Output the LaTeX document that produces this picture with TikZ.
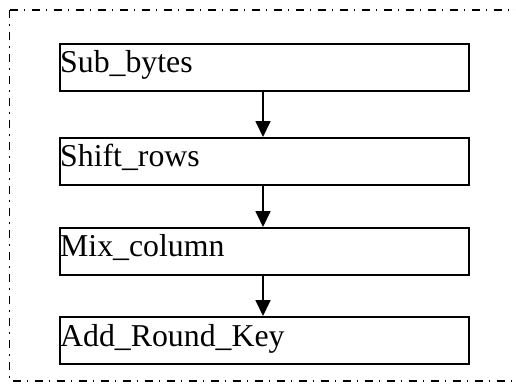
\documentclass[tikz,border=0pt]{standalone}
\usepackage{fontspec}
\setmainfont{Liberation Serif}
\usetikzlibrary{arrows.meta}
\begin{document}
\begin{tikzpicture}[x=1pt,y=-1pt,
  stagebox/.style={draw=black, line width=1.6pt, minimum width=409pt, minimum height=47pt, inner sep=0pt, anchor=north west},
  stagelabel/.style={anchor=base west, inner sep=0pt, font=\fontsize{31.8pt}{36pt}\selectfont},
  flow/.style={line width=1.8pt, -{Triangle[length=16pt,width=15pt]}},
  outer/.style={line width=1.3pt, dash pattern=on 8pt off 6pt on 1.5pt off 6.5pt}]
\useasboundingbox (0,0) rectangle (516,383);
\draw[outer] (9.5,10) -- (9.5,381) -- (530,381) (9.5,10) -- (530,10);
\node[stagebox] (b1) at (59,43) {};
\node[stagebox] (b2) at (59,137) {};
\node[stagebox] (b3) at (59,227) {};
\node[stagebox] (b4) at (59,316) {};
\node[stagelabel] (t1) at (60,72.5) {Sub\_bytes};
\node[stagelabel] (t2) at (60,166.5) {Shift\_rows};
\node[stagelabel] (t3) at (60,256.5) {Mix\_column};
\node[stagelabel] (t4) at (60,346) {Add\_Round\_Key};
\coordinate (ax) at (263,0);
\draw[flow] (b1.south -| ax) -- (b2.north -| ax);
\draw[flow] (b2.south -| ax) -- (b3.north -| ax);
\draw[flow] (b3.south -| ax) -- (b4.north -| ax);
\end{tikzpicture}
\end{document}
